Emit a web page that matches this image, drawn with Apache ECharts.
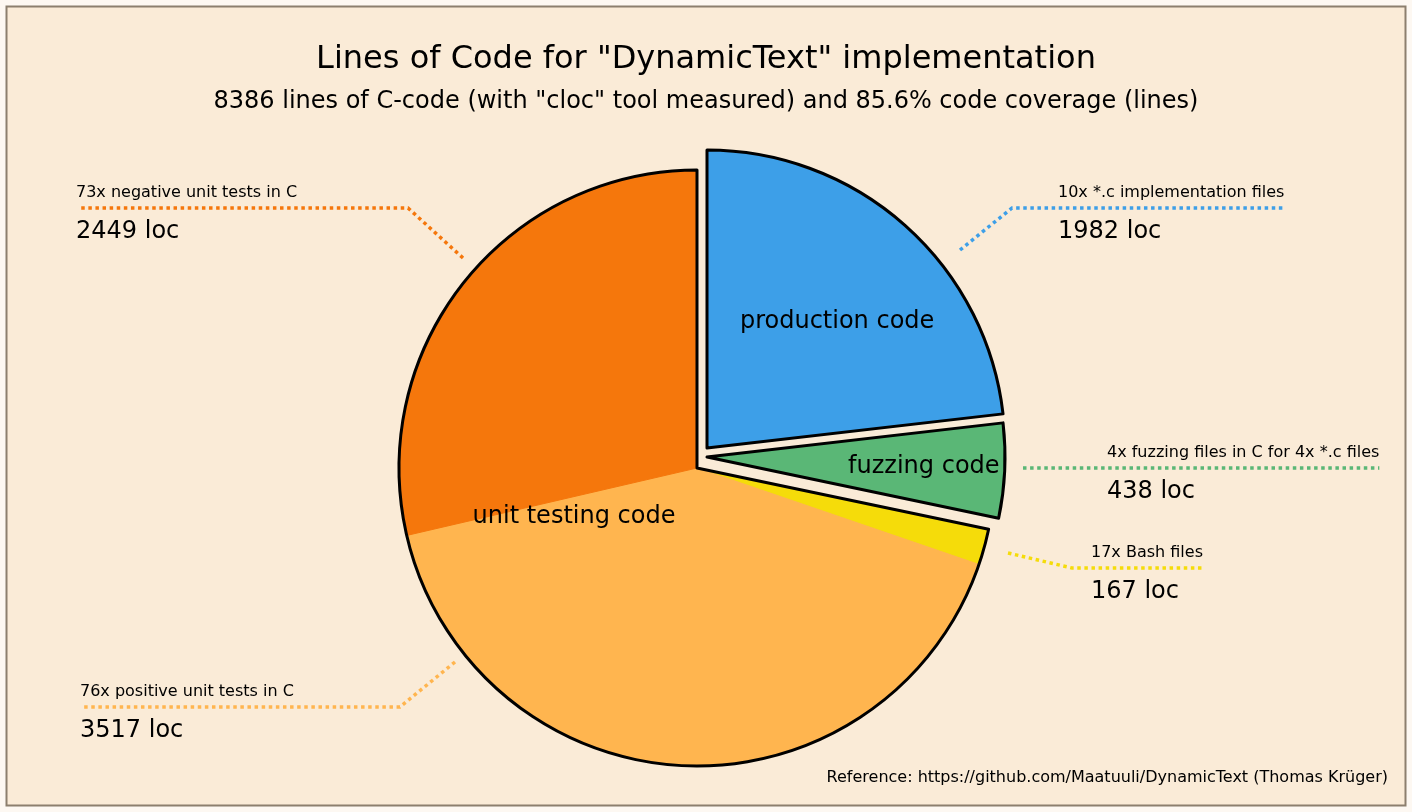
<!DOCTYPE html>
<html>
<head>
<meta charset="utf-8">
<title>Lines of Code for "DynamicText" implementation</title>
<script src="https://cdn.jsdelivr.net/npm/echarts@6/dist/echarts.min.js"></script>
<style>
  html, body { margin: 0; padding: 0; background: #fdf8f2; }
  #chart { width: 1412px; height: 812px; }
</style>
</head>
<body>
<div id="chart"></div>
<script>
// ---- data (slices clockwise from 12 o'clock) ----
const sliceNames = ['production', 'fuzzing', 'bash', 'positive', 'negative'];
const sliceLoc = [1982, 438, 167, 3517, 2449];
const sliceDesc = [
  '10x *.c implementation files',
  '4x fuzzing files in C for 4x *.c files',
  '17x Bash files',
  '76x positive unit tests in C',
  '73x negative unit tests in C'
];
const groupNames = ['production code', 'fuzzing code', 'unit testing code'];
const groupMembers = [[0], [1], [2, 3, 4]];

const titleText = 'Lines of Code for "DynamicText" implementation';
const subtitleText = '8386 lines of C-code (with "cloc" tool measured) and 85.6% code coverage (lines)';
const footerText = 'Reference: https://github.com/Maatuuli/DynamicText (Thomas Krüger)';

// ---- look ----
const FONT = 'DejaVu Sans';
const colors = ['#3d9fe8', '#5ab776', '#f5dc0a', '#ffb54f', '#f5770c'];
const R = 298;
const EDGE = 3;
const baseCenter = [697, 468];
// the two exploded wedges are pushed out by hand, as in the original
const explodedCenter = { 0: [707, 448], 1: [707, 457] };
// leader lines: start near the wedge, elbow, left edge of the text
const leaders = {
  0: { start: [960, 250], elbow: [1012, 208], textX: 1058, side: 1 },
  1: { start: [1023, 468], elbow: [1023, 468], textX: 1107, side: 1 },
  2: { start: [1008, 553], elbow: [1072, 568], textX: 1091, side: 1 },
  3: { start: [455, 662], elbow: [400, 707], textX: 80, side: -1 },
  4: { start: [463, 258], elbow: [408, 208], textX: 76, side: -1 }
};
// nudges for the names written inside the pie
const groupLabelShift = [[39, -33], [75, -8], [-5, -47]];

function leaderLayout(p) {
  const L = leaders[p.dataIndex];
  if (!L) return {};
  const endX = L.side > 0 ? L.textX + p.labelRect.width : L.textX + 2;
  return {
    x: L.textX,
    y: L.elbow[1] - 30,
    align: 'left',
    verticalAlign: 'top',
    labelLinePoints: [L.start, L.elbow, [endX, L.elbow[1]]]
  };
}

function sliceData(visible, outlined) {
  return sliceLoc.map((v, i) => {
    const on = visible.indexOf(i) !== -1;
    return {
      name: sliceNames[i],
      value: v,
      itemStyle: on
        ? (outlined
          ? { color: colors[i], borderColor: '#000', borderWidth: EDGE }
          : { color: colors[i], borderColor: colors[i], borderWidth: 1 })
        : { color: 'transparent', borderWidth: 0 },
      label: { show: on },
      labelLine: {
        show: on,
        lineStyle: { color: colors[i], width: 3.5, type: [3.5, 3.6] }
      }
    };
  });
}

function sliceSeries(center, visible, outlined) {
  return {
    type: 'pie',
    center: center,
    radius: R,
    startAngle: 90,
    clockwise: true,
    silent: true,
    avoidLabelOverlap: false,
    emphasis: { disabled: true },
    data: sliceData(visible, outlined),
    label: {
      position: 'outside',
      formatter: (p) => '{d|' + sliceDesc[p.dataIndex] + '}\n{v|' + p.value + ' loc}',
      rich: {
        d: { fontFamily: FONT, fontSize: 16, lineHeight: 30, color: '#000' },
        v: { fontFamily: FONT, fontSize: 24, lineHeight: 48, color: '#000' }
      }
    },
    labelLine: { length: 10, length2: 10, smooth: false },
    labelLayout: leaderLayout
  };
}

const groupData = groupNames.map((n, g) => ({
  name: n,
  value: groupMembers[g].reduce((s, i) => s + sliceLoc[i], 0),
  itemStyle: g === 2
    ? { color: 'transparent', borderColor: '#000', borderWidth: EDGE }
    : { color: 'transparent', borderWidth: 0 }
}));

const chart = echarts.init(document.getElementById('chart'), null, { renderer: 'canvas' });

chart.setOption({
  animation: false,
  backgroundColor: '#fdf8f2',
  title: [
    { text: titleText, left: 'center', top: 44, padding: 0,
      textStyle: { fontFamily: FONT, fontSize: 32, fontWeight: 'normal', color: '#000' } },
    { text: subtitleText, left: 'center', top: 90, padding: 0,
      textStyle: { fontFamily: FONT, fontSize: 24, fontWeight: 'normal', color: '#000' } },
    { text: footerText, right: 24, top: 770, padding: 0,
      textStyle: { fontFamily: FONT, fontSize: 16, fontWeight: 'normal', color: '#000' } }
  ],
  graphic: {
    elements: [{
      type: 'rect',
      z: -10,
      shape: { x: 6.5, y: 6.5, width: 1399, height: 799 },
      style: { fill: '#faebd7', stroke: '#8c7f6e', lineWidth: 2 }
    }]
  },
  series: [
    sliceSeries(baseCenter, [2, 3, 4], false),
    sliceSeries(explodedCenter[0], [0], true),
    sliceSeries(explodedCenter[1], [1], true),
    {
      type: 'pie',
      center: baseCenter,
      radius: R,
      startAngle: 90,
      clockwise: true,
      silent: true,
      avoidLabelOverlap: false,
      emphasis: { disabled: true },
      data: groupData,
      label: {
        show: true,
        position: 'inside',
        formatter: '{b}',
        fontFamily: FONT,
        fontSize: 24,
        color: '#000'
      },
      labelLine: { show: false },
      labelLayout: (p) => {
        const r = p.labelRect;
        const s = groupLabelShift[p.dataIndex];
        return { x: r.x + r.width / 2 + s[0], y: r.y + r.height / 2 + s[1] };
      }
    }
  ]
});
</script>
</body>
</html>
